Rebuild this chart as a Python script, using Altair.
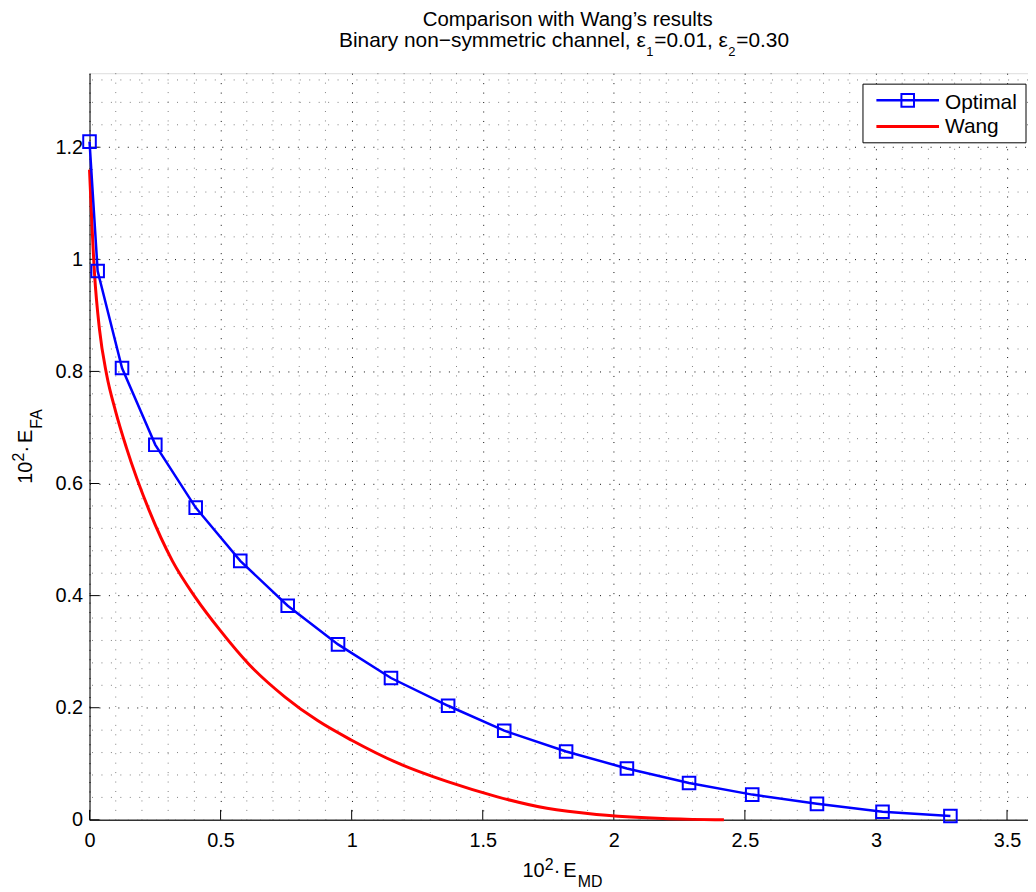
import altair as alt
import pandas as pd

# ---------------- data ----------------
optimal_x = [0.0, 0.031, 0.124, 0.251, 0.405, 0.575, 0.756, 0.948, 1.150, 1.368,
             1.582, 1.818, 2.050, 2.287, 2.528, 2.775, 3.025, 3.284]
optimal_y = [1.210, 0.979, 0.806, 0.669, 0.557, 0.462, 0.382, 0.313, 0.253, 0.2035,
             0.159, 0.122, 0.0917, 0.0658, 0.045, 0.0285, 0.0144, 0.0067]

wang_x = [0.0, 0.019, 0.038, 0.065, 0.10, 0.14, 0.2275, 0.316, 0.405, 0.50, 0.607,
          0.746, 0.87, 1.0, 1.177, 1.366, 1.556, 1.745, 1.934, 2.124, 2.30, 2.42]
wang_y = [1.16, 0.975, 0.875, 0.795, 0.728, 0.665, 0.552, 0.462, 0.396, 0.337, 0.278,
          0.219, 0.177, 0.142, 0.101, 0.068, 0.041, 0.0205, 0.0096, 0.0037, 0.0008, 0.0]

x_ticks = [0, 0.5, 1, 1.5, 2, 2.5, 3, 3.5]
y_ticks = [0, 0.2, 0.4, 0.6, 0.8, 1.0, 1.2]
x_minor = [round(i * 0.1, 1) for i in range(1, 36) if i % 5 != 0]
y_minor = [round(i * 0.04, 2) for i in range(1, 34) if i % 5 != 0]

title_line1 = "Comparison with Wang\u2019s results"
title_line2 = ["Binary non\u2212symmetric channel, \u03b5", "1", "=0.01, \u03b5", "2", "=0.30"]
legend_labels = ["Optimal", "Wang"]

# ---------------- layout ----------------
W, H = 944, 751
FONT = "Liberation Sans"
BLUE = "#0000ff"
RED = "#ff0000"

xs = alt.Scale(domain=[0, 3.58], nice=False, zero=False)
ys = alt.Scale(domain=[0, 1.332], nice=False, zero=False)

df_opt = pd.DataFrame({"x": optimal_x, "y": optimal_y, "i": range(len(optimal_x))})
df_wang = pd.DataFrame({"x": wang_x, "y": wang_y, "i": range(len(wang_x))})
df_xmin = pd.DataFrame({"x": x_minor})
df_ymin = pd.DataFrame({"y": y_minor})
df_xt = pd.DataFrame({"x": x_ticks})
df_yt = pd.DataFrame({"y": y_ticks})
one = pd.DataFrame({"a": [0]})

x_axis = alt.Axis(values=x_ticks, format="~g", labelFont=FONT, labelFontSize=20,
                  labelColor="#000", ticks=False, domain=True, domainColor="#333",
                  domainWidth=1.5, grid=True, gridDash=[1, 8.5], gridColor="#000",
                  gridOpacity=0.95, gridWidth=1, labelPadding=11, labelFlush=False,
                  labelOverlap=False, title=None)
y_axis = alt.Axis(values=y_ticks, format="~g", labelFont=FONT, labelFontSize=20,
                  labelColor="#000", ticks=False, domain=True, domainColor="#000",
                  domainWidth=1, grid=True, gridDash=[1, 8.5], gridColor="#000",
                  gridOpacity=0.95, gridWidth=1, labelPadding=7, labelFlush=False,
                  labelOverlap=False, title=None)


def X(field="x"):
    return alt.X(f"{field}:Q", scale=xs, axis=x_axis)


def Y(field="y"):
    return alt.Y(f"{field}:Q", scale=ys, axis=y_axis)


minor_x = alt.Chart(df_xmin).mark_rule(color="#000", opacity=0.5, strokeWidth=1,
                                       strokeDash=[1, 8.5]).encode(x=X())
minor_y = alt.Chart(df_ymin).mark_rule(color="#000", opacity=0.5, strokeWidth=1,
                                       strokeDash=[1, 8.5]).encode(y=Y())

tick_x = alt.Chart(df_xt).mark_rule(color="#000", strokeWidth=1).encode(
    x=X(), y=alt.value(H), y2=alt.value(H - 10))
tick_y = alt.Chart(df_yt).mark_rule(color="#000", strokeWidth=1).encode(
    y=Y(), x=alt.value(0), x2=alt.value(10))

wang = alt.Chart(df_wang).mark_line(color=RED, strokeWidth=3, interpolate="monotone").encode(
    x=X(), y=Y(), order="i:Q")
opt_line = alt.Chart(df_opt).mark_line(color=BLUE, strokeWidth=2.5).encode(
    x=X(), y=Y(), order="i:Q")
opt_pts = alt.Chart(df_opt).mark_point(shape="square", size=160, filled=False,
                                       strokeWidth=2, color=BLUE, opacity=1).encode(
    x=X(), y=Y())


# ---------------- titles ----------------
def txt(text, x, y, size=20, align="left", angle=0):
    return alt.Chart(one).mark_text(text=text, font=FONT, fontSize=size, color="#000",
                                    align=align, baseline="alphabetic", angle=angle).encode(
        x=alt.value(x), y=alt.value(y))


texts = [
    txt(title_line1, 481, -47.5, size=20.5, align="center"),
    # title line 2 with subscripts
    txt(title_line2[0], 251, -26, size=21),
    txt(title_line2[1], 560, -17, size=13),
    txt(title_line2[2], 568, -26, size=21),
    txt(title_line2[3], 642.5, -17, size=13),
    txt(title_line2[4], 650.5, -26, size=21),
    # x axis title: 10^2 . E_MD
    txt("10", 435.5, 809),
    txt("2", 458, 801.5, size=16),
    txt("\u00b7", 467, 809),
    txt("E", 476.5, 809),
    txt("MD", 491, 819, size=16),
    # y axis title: 10^2 . E_FA (rotated)
    txt("10", -58.3, 413, angle=270),
    txt("2", -66, 390.5, size=16, angle=270),
    txt("\u00b7", -58.3, 381.5, angle=270),
    txt("E", -58.3, 372, angle=270),
    txt("FA", -48.3, 357.5, size=16, angle=270),
]

# ---------------- legend ----------------
leg_box = alt.Chart(one).mark_rect(fill="white", stroke="#000", strokeWidth=1).encode(
    x=alt.value(778), x2=alt.value(942), y=alt.value(11), y2=alt.value(70))
leg_l1 = alt.Chart(one).mark_rule(color=BLUE, strokeWidth=2.5).encode(
    x=alt.value(791.5), x2=alt.value(854.5), y=alt.value(27.3))
leg_p1 = alt.Chart(one).mark_point(shape="square", size=160, filled=False,
                                   strokeWidth=2, color=BLUE, opacity=1).encode(
    x=alt.value(823), y=alt.value(27.3))
leg_l2 = alt.Chart(one).mark_rule(color=RED, strokeWidth=3).encode(
    x=alt.value(791.5), x2=alt.value(854.5), y=alt.value(53.7))
leg_t1 = txt(legend_labels[0], 860.5, 35.5, size=21)
leg_t2 = txt(legend_labels[1], 860.5, 60.5, size=21)

chart = alt.layer(
    minor_x, minor_y, tick_x, tick_y, wang, opt_line, opt_pts,
    *texts,
    leg_box, leg_l1, leg_p1, leg_l2, leg_t1, leg_t2,
).properties(
    width=W, height=H,
    autosize=alt.AutoSizeParams(type="none"),
    padding={"left": 82, "top": 63, "right": 0, "bottom": 70},
).configure_view(stroke=None).configure(background="white")

chart.save("out.html", embed_options={"renderer": "svg", "actions": False})
